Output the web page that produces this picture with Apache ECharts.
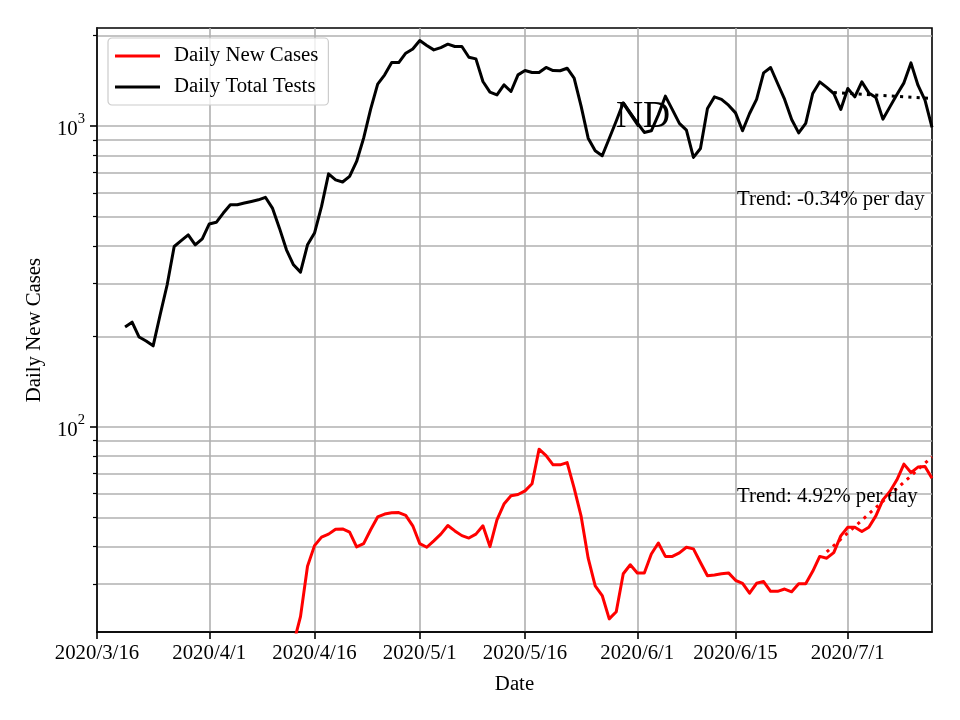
<!DOCTYPE html>
<html>
<head>
<meta charset="utf-8">
<script src="https://cdn.jsdelivr.net/npm/echarts@6/dist/echarts.min.js"></script>
<style>
html,body{margin:0;padding:0;background:#fff;}
#chart{width:960px;height:720px;}
</style>
</head>
<body>
<div id="chart"></div>
<script>
// ---- Data ----
const startDate = '2020/3/16';
const dayCount = 120; // 2020/3/16 .. 2020/7/13
const tickLabels = ['2020/3/16','2020/4/1','2020/4/16','2020/5/1','2020/5/16','2020/6/1','2020/6/15','2020/7/1'];

const testsStart = '2020/3/20';
const testsValues = [215,223,199,193,186,236,297,398,416,435,403,422,473,479,514,548,548,555,562,569,580,534,458,388,346,327,403,441,541,694,663,652,681,763,912,1140,1380,1481,1627,1627,1748,1806,1927,1855,1793,1825,1873,1840,1840,1695,1674,1408,1297,1270,1372,1304,1481,1531,1508,1508,1567,1531,1528,1558,1444,1163,912,828,797,910,1040,1195,1105,1025,953,965,1090,1258,1135,1021,970,787,843,1145,1251,1227,1174,1107,965,1102,1227,1503,1567,1386,1227,1052,950,1021,1284,1403,1345,1284,1136,1334,1251,1403,1290,1245,1055,1159,1274,1393,1623,1368,1220,990];

const casesStart = '2020/4/13';
const casesValues = [19,23.4,34.4,40.3,43,44,45.7,45.8,44.7,39.9,40.9,45.5,50.2,51.3,51.8,51.9,50.8,46.9,40.9,39.8,41.8,44,47,45.1,43.5,42.7,44,46.9,40,49.1,55.4,59,59.6,61.3,64.7,84.3,80.3,74.8,74.8,76.1,62.6,50.4,36.6,29.6,27.5,23,24.3,32.5,34.8,32.7,32.7,37.8,41.1,37.1,37.1,38.1,39.8,39.3,35.4,32,32.2,32.5,32.7,30.9,30.2,28,30.2,30.6,28.4,28.4,28.9,28.3,30.1,30.1,33.1,37.1,36.6,38.2,43.4,46.4,46.4,44.9,46.4,50.6,57.2,61,66.7,75.2,70.5,73.5,73.8,67.5];

const testsTrendDates = ['2020/6/29','2020/7/13'];
const testsTrend = [1293,1236];
const casesTrendDates = ['2020/6/28','2020/7/13'];
const casesTrend = [38.4,79.5];

const yMajorTicks = [100,1000];
const yMinorTicks = [30,40,50,60,70,80,90,200,300,400,500,600,700,800,900,2000];

// ---- Build ----
function fmt(d){return d.getFullYear()+'/'+(d.getMonth()+1)+'/'+d.getDate();}
const dates = [];
{
  const p = startDate.split('/').map(Number);
  const d0 = new Date(p[0], p[1]-1, p[2]);
  for (let i = 0; i < dayCount; i++) {
    const d = new Date(d0.getFullYear(), d0.getMonth(), d0.getDate() + i);
    dates.push(fmt(d));
  }
}
function placeSeries(start, vals){
  const arr = new Array(dates.length).fill(null);
  const s = dates.indexOf(start);
  vals.forEach((v,i)=>{ if (s+i < arr.length) arr[s+i] = v; });
  return arr;
}
function placePoints(ds, vals){
  const arr = new Array(dates.length).fill(null);
  ds.forEach((d,i)=>{ arr[dates.indexOf(d)] = vals[i]; });
  return arr;
}
const tickSet = new Set(tickLabels.map(t => dates.indexOf(t)));
const isTick = (i) => tickSet.has(i);

const FONT = '"Liberation Serif", "Times New Roman", serif';
const FS = 20.8;
const GRID = '#b0b0b0';

const chart = echarts.init(document.getElementById('chart'), null, {renderer:'canvas'});
const option = {
  animation: false,
  backgroundColor: '#fff',
  textStyle: { fontFamily: FONT },
  grid: { left: 97, right: 28, top: 28, bottom: 88, show: true, borderColor: '#000', borderWidth: 1.6, backgroundColor: 'transparent', containLabel: false },
  legend: {
    data: ['Daily New Cases','Daily Total Tests'],
    orient: 'vertical', left: 108, top: 38,
    padding: [7, 10, 7, 7],
    itemGap: 9, itemWidth: 45, itemHeight: 3, icon: 'rect',
    backgroundColor: 'rgba(255,255,255,0.8)', borderColor: '#cccccc', borderWidth: 1.2, borderRadius: 4,
    textStyle: { fontFamily: FONT, fontSize: FS, color: '#000', lineHeight: 22, padding: [0,0,0,9] }
  },
  xAxis: {
    type: 'category', data: dates, boundaryGap: false,
    name: 'Date', nameLocation: 'middle', nameGap: 42,
    nameTextStyle: { fontFamily: FONT, fontSize: FS, color: '#000' },
    axisLine: { show: true, lineStyle: { color: '#000', width: 1.6 } },
    axisTick: { show: true, interval: isTick, length: 7, lineStyle: { color: '#000', width: 1.6 } },
    axisLabel: { interval: isTick, fontFamily: FONT, fontSize: FS, color: '#000', margin: 11, hideOverlap: false },
    splitLine: { show: true, interval: isTick, lineStyle: { color: GRID, width: 1.6 } }
  },
  yAxis: [{
    type: 'log', logBase: 10, min: 20.8, max: 2120,
    name: 'Daily New Cases', nameLocation: 'middle', nameGap: 52,
    nameTextStyle: { fontFamily: FONT, fontSize: FS, color: '#000' },
    axisLine: { show: true, lineStyle: { color: '#000', width: 1.6 } },
    axisTick: { show: true, customValues: yMajorTicks, length: 7, lineStyle: { color: '#000', width: 1.6 } },
    axisLabel: {
      customValues: yMajorTicks, margin: 12, color: '#000',
      formatter: function(v){ return '{b|10}{s|' + Math.round(Math.log10(v)) + '}'; },
      rich: {
        b: { fontFamily: FONT, fontSize: FS, color: '#000', lineHeight: 28, verticalAlign: 'bottom' },
        s: { fontFamily: FONT, fontSize: 14.6, color: '#000', lineHeight: 28, verticalAlign: 'top' }
      }
    },
    splitLine: { show: true, lineStyle: { color: GRID, width: 1.6 } }
  },{
    type: 'log', logBase: 10, min: 20.8, max: 2120, position: 'left',
    axisLine: { show: false },
    axisTick: { show: true, customValues: yMinorTicks, length: 4, lineStyle: { color: '#000', width: 1.2 } },
    axisLabel: { show: false, customValues: yMinorTicks },
    splitLine: { show: true, lineStyle: { color: GRID, width: 1.6 } }
  }],
  series: [
    { name: 'Daily New Cases', type: 'line', data: placeSeries(casesStart, casesValues), symbol: 'none', clip: true,
      itemStyle: { color: '#ff0000' }, lineStyle: { color: '#ff0000', width: 3, join: 'round' }, z: 5 },
    { name: 'Daily Total Tests', type: 'line', data: placeSeries(testsStart, testsValues), symbol: 'none', clip: true,
      itemStyle: { color: '#000' }, lineStyle: { color: '#000', width: 3, join: 'round' }, z: 5 },
    { name: 'cases trend', type: 'line', data: placePoints(casesTrendDates, casesTrend), connectNulls: true, symbol: 'none', clip: true,
      lineStyle: { color: '#ff0000', width: 3, type: [3.1, 5.2] }, z: 4 },
    { name: 'tests trend', type: 'line', data: placePoints(testsTrendDates, testsTrend), connectNulls: true, symbol: 'none', clip: true,
      lineStyle: { color: '#000', width: 3, type: [3.1, 5.2] }, z: 4 }
  ],
  graphic: [
    { type: 'text', z: 10, style: { text: 'ND', x: 616, y: 117.5, fontFamily: FONT, fontSize: 37.5, fill: '#000', verticalAlign: 'middle', textVerticalAlign: 'middle' } },
    { type: 'text', z: 10, style: { text: 'Trend: -0.34% per day', x: 737, y: 199.4, fontFamily: FONT, fontSize: FS, fill: '#000', verticalAlign: 'middle', textVerticalAlign: 'middle' } },
    { type: 'text', z: 10, style: { text: 'Trend: 4.92% per day', x: 737, y: 496.4, fontFamily: FONT, fontSize: FS, fill: '#000', verticalAlign: 'middle', textVerticalAlign: 'middle' } }
  ]
};
chart.setOption(option);
</script>
</body>
</html>
